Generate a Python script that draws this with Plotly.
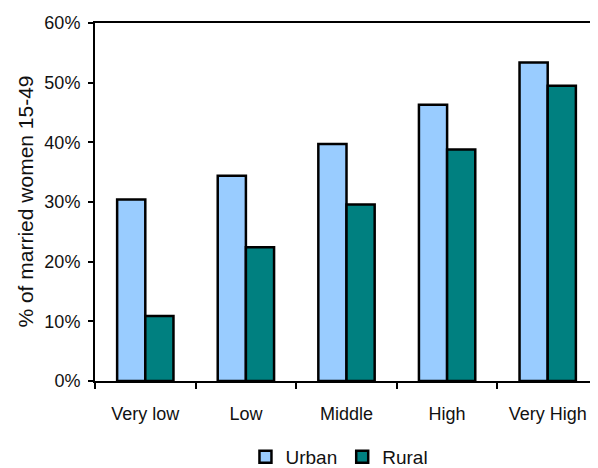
import plotly.graph_objects as go

categories = ["Very low", "Low", "Middle", "High", "Very High"]
urban = [30.4, 34.4, 39.7, 46.3, 53.4]
rural = [10.9, 22.4, 29.6, 38.8, 49.5]
y_ticks = [0, 10, 20, 30, 40, 50, 60]
y_tick_labels = ["0%", "10%", "20%", "30%", "40%", "50%", "60%"]
y_title = "% of married women 15-49"

font_family = "Liberation Sans, Arial, sans-serif"

fig = go.Figure()
fig.add_trace(go.Bar(name="Urban", x=categories, y=urban,
                     marker=dict(color="#99CCFF", line=dict(color="black", width=2.5))))
fig.add_trace(go.Bar(name="Rural", x=categories, y=rural,
                     marker=dict(color="#008080", line=dict(color="black", width=2.5))))

# the page body is offset by 8px, so the layout is shifted accordingly
fig.update_layout(
    width=590, height=468,
    margin=dict(l=87, r=0, t=15, b=92),
    paper_bgcolor="white", plot_bgcolor="white",
    barmode="group", bargap=0.44, bargroupgap=0,
    font=dict(family=font_family, size=18, color="#111111"),
    showlegend=True,
    legend=dict(orientation="h", x=0.486, xanchor="center", y=-0.212, yanchor="middle",
                font=dict(size=19), itemwidth=30, tracegroupgap=0,
                bgcolor="rgba(0,0,0,0)"),
    xaxis=dict(showline=True, linecolor="black", linewidth=2, mirror=True,
               ticks="outside", tickson="boundaries", ticklen=6, tickwidth=2,
               tickcolor="black", showgrid=False, ticklabelstandoff=15,
               automargin=False),
    yaxis=dict(range=[0, 60], tickvals=y_ticks, ticktext=y_tick_labels,
               showline=True, linecolor="black", linewidth=2,
               ticks="outside", ticklen=5, tickwidth=2, tickcolor="black",
               showgrid=False, zeroline=False, ticklabelstandoff=4,
               automargin=False),
    annotations=[dict(text=y_title, xref="paper", yref="paper", x=-0.14, y=0.5,
                      xanchor="center", yanchor="middle", textangle=-90,
                      showarrow=False, font=dict(size=21, family=font_family, color="#111111"))],
)

fig.write_html("out.html")
